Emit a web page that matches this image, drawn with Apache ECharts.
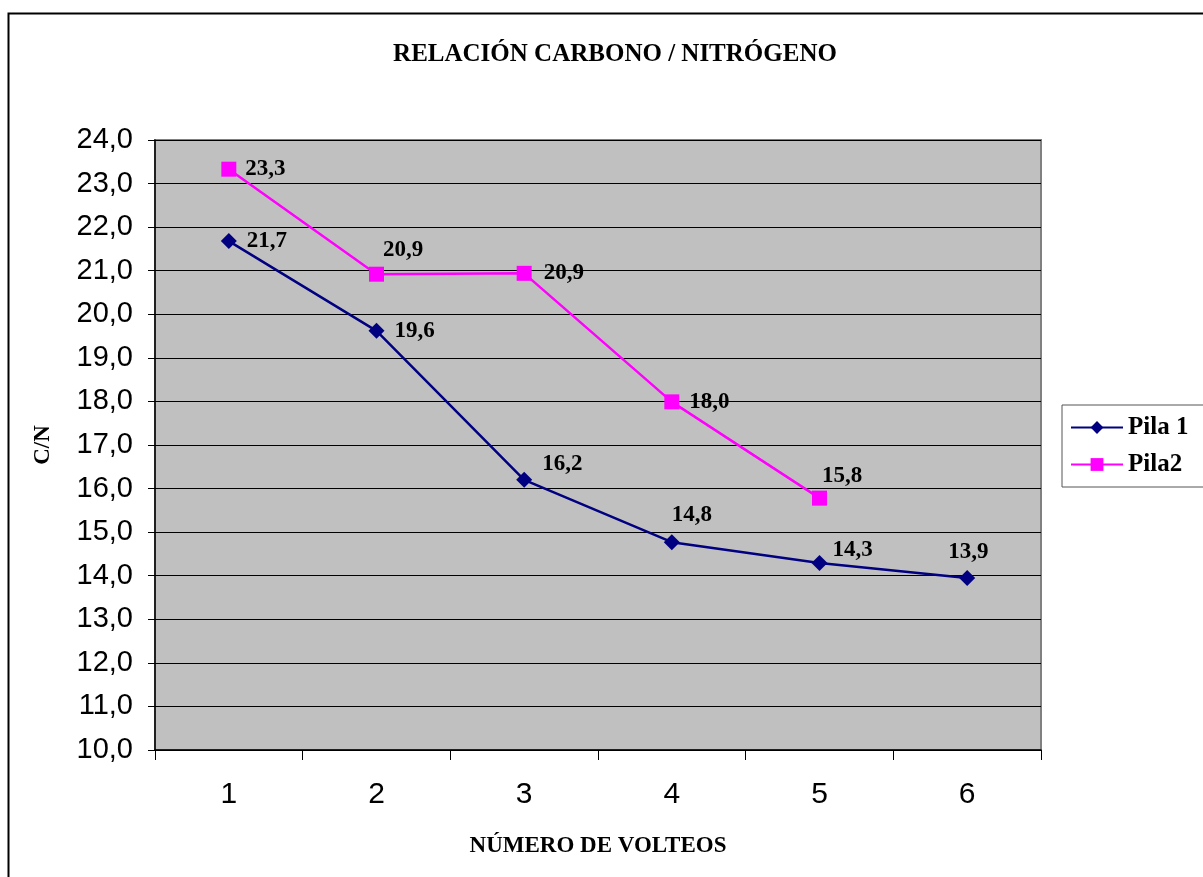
<!DOCTYPE html>
<html>
<head>
<meta charset="utf-8">
<script src="https://cdn.jsdelivr.net/npm/echarts@6/dist/echarts.min.js"></script>
<style>html,body{margin:0;padding:0;background:#fff}#c{width:1203px;height:877px}</style>
</head>
<body>
<div id="c"></div>
<script>
const categories = ['1', '2', '3', '4', '5', '6'];
const pila1 = [21.68, 19.62, 16.2, 14.77, 14.29, 13.95];
const pila2 = [23.33, 20.92, 20.94, 17.99, 15.78, null];
const seriesNames = ['Pila 1', 'Pila2'];
const titleText = 'RELACIÓN CARBONO / NITRÓGENO';
const xName = 'NÚMERO DE VOLTEOS';
const yName = 'C/N';

// label offsets (layout only)
const off1 = [[2,0],[2,0],[2,-16],[-16,-27],[-3,-13],[-35,-26]];
const off2 = [[1,0],[-9,-24],[4,0],[2,0],[-13,-22],[0,0]];

const fmt = v => v.toFixed(1).replace('.', ',');
const labelBase = {show:true, position:'right', distance:8, color:'#000', fontFamily:'Liberation Serif', fontWeight:'bold', fontSize:23,
  formatter: p => fmt(p.value)};
function mk(arr, offs){
  return arr.map((v,i)=> v==null ? null : {value:v, label:Object.assign({}, labelBase, {offset:offs[i]})});
}

const chart = echarts.init(document.getElementById('c'));
chart.setOption({
  animation:false,
  backgroundColor:'#fff',
  graphic:[{type:'rect', left:6, top:11, shape:{width:1400, height:1000}, style:{fill:'none', stroke:'#000', lineWidth:2}, z:-10, silent:true}],
  title:{text:titleText, left:610, top:37, textAlign:'center', textStyle:{fontFamily:'Liberation Serif', fontWeight:'bold', fontSize:25, color:'#000'}},
  legend:{orient:'vertical', left:1062, top:405, data:seriesNames, itemWidth:52, itemHeight:16, itemGap:12,
    padding:[10,30,10,8], borderColor:'#555', borderWidth:1, backgroundColor:'#fff',
    textStyle:{fontFamily:'Liberation Serif', fontWeight:'bold', fontSize:25, color:'#000'}},
  grid:{left:155, right:162, top:140, bottom:127, show:true, backgroundColor:'#C0C0C0', borderColor:'#808080', borderWidth:2},
  xAxis:{type:'category', data:categories, boundaryGap:true,
    name:xName, nameLocation:'middle', nameGap:85,
    nameTextStyle:{fontFamily:'Liberation Serif', fontWeight:'bold', fontSize:23, color:'#000'},
    axisLine:{lineStyle:{color:'#000', width:1.5}},
    axisTick:{show:true, length:10, lineStyle:{color:'#000'}},
    axisLabel:{margin:30, fontFamily:'Liberation Sans', fontSize:30, color:'#000'}},
  yAxis:{type:'value', min:10, max:24, interval:1,
    name:yName, nameLocation:'middle', nameGap:100, nameRotate:90,
    nameTextStyle:{fontFamily:'Liberation Serif', fontWeight:'bold', fontSize:23, color:'#000'},
    axisLine:{show:true, lineStyle:{color:'#000', width:1.5}},
    axisTick:{show:true, length:7, lineStyle:{color:'#000'}},
    axisLabel:{margin:22, formatter:fmt, fontFamily:'Liberation Sans', fontSize:29, color:'#000'},
    splitLine:{lineStyle:{color:'#000', width:1}}},
  series:[
    {name:seriesNames[0], type:'line', data:mk(pila1, off1), symbol:'diamond', symbolSize:16,
     lineStyle:{color:'#000080', width:2.5}, itemStyle:{color:'#000080'}},
    {name:seriesNames[1], type:'line', data:mk(pila2, off2), symbol:'rect', symbolSize:15,
     lineStyle:{color:'#FF00FF', width:2.5}, itemStyle:{color:'#FF00FF'}}
  ]
});
</script>
</body>
</html>
